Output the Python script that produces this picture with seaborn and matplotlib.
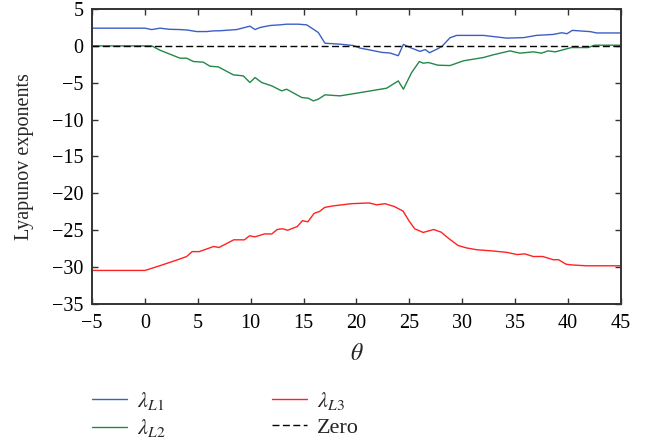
import matplotlib
matplotlib.use("Agg")
import matplotlib.pyplot as plt
import seaborn as sns
import pandas as pd

# Lyapunov exponent spectra versus theta
theta_l1 = [-5, 0.0, 0.64, 1.43, 2.3, 3.32, 4.0, 4.89, 5.84, 6.47, 7.1, 8.67, 9.93,
            10.41, 10.88, 11.82, 12.77, 13.4, 14.5, 15.29, 15.92, 16.39, 17.02, 18.44,
            19.7, 20.33, 21.59, 22.38, 23.17, 23.95, 24.43, 25.06, 26.0, 26.5, 26.9,
            27.6, 28.05, 28.84, 29.47, 32.0, 34.2, 35.8, 37.0, 38.6, 39.4, 39.9, 40.4,
            42.1, 42.7, 45]
lam_l1 = [2.40, 2.40, 2.21, 2.40, 2.25, 2.21, 2.15, 1.94, 1.94, 2.03, 2.05, 2.21, 2.67,
          2.21, 2.49, 2.76, 2.85, 2.94, 2.94, 2.85, 2.26, 1.81, 0.36, 0.23,
          0.05, -0.30, -0.65, -0.88, -0.97, -1.33, 0.20, -0.22, -0.75, -0.50, -0.93,
          -0.45, -0.10, 1.10, 1.42, 1.42, 1.05, 1.12, 1.42, 1.55, 1.78, 1.65, 2.10,
          1.93, 1.75, 1.75]

theta_l2 = [-5, 0.64, 1.43, 3.32, 3.95, 4.58, 5.52, 6.15, 6.94, 8.36, 9.3, 9.93, 10.41,
            11.04, 11.98, 12.93, 13.4, 14.82, 15.45, 15.92, 16.39, 17.02, 18.44, 20.0,
            22.85, 23.95, 24.43, 25.21, 25.94, 26.3, 26.8, 27.7, 28.84, 30.1, 32.0,
            32.9, 34.5, 35.45, 36.7, 37.5, 38.1, 38.8, 40.3, 41.9, 42.5, 45]
lam_l2 = [0, 0, -0.59, -1.67, -1.67, -2.12, -2.21, -2.76, -2.85, -3.93, -4.07, -4.97,
          -4.29, -4.97, -5.42, -6.10, -5.88, -7.00, -7.10, -7.46, -7.23, -6.64, -6.78,
          -6.42, -5.74, -4.75, -5.88, -3.62, -2.12, -2.35, -2.26, -2.62, -2.67, -2.03,
          -1.58, -1.22, -0.68, -0.99, -0.81, -0.99, -0.68, -0.81, -0.23, -0.23, 0.09,
          0.09]

theta_l3 = [-5, 0.02, 1.39, 3.1, 3.95, 4.46, 5.14, 6.5, 7.0, 8.4, 9.4, 9.9, 10.4, 11.3,
            12.0, 12.5, 13.0, 13.5, 14.4, 14.9, 15.4, 16.0, 16.5, 17.0, 17.8, 19.5,
            21.2, 21.9, 22.7, 23.6, 24.4, 24.95, 25.5, 26.3, 27.3, 28.0, 28.7, 29.6,
            30.4, 31.4, 32.8, 34.2, 35.2, 35.9, 36.7, 37.6, 38.6, 39.1, 39.8, 40.3,
            41.7, 45]
lam_l3 = [-30.45, -30.45, -29.82, -29.0, -28.56, -27.9, -27.9, -27.2, -27.34, -26.3,
          -26.3, -25.75, -25.9, -25.5, -25.5, -24.9, -24.8, -25.0, -24.5, -23.7,
          -23.86, -22.7, -22.46, -21.9, -21.7, -21.4, -21.3, -21.55, -21.4, -21.8,
          -22.4, -23.7, -24.8, -25.3, -24.9, -25.26, -26.1, -27.07, -27.4, -27.65,
          -27.8, -28.0, -28.3, -28.2, -28.56, -28.56, -29.0, -29.0, -29.6, -29.7,
          -29.82, -29.82]

theta_zero = [-5, 45]
lam_zero = [0, 0]

x_ticks = list(range(-5, 50, 5))
y_ticks = list(range(-35, 10, 5))

sns.set_theme(style="ticks")
plt.rcParams["font.family"] = ["Liberation Serif", "DejaVu Serif"]
plt.rcParams["mathtext.fontset"] = "stix"
plt.rcParams["axes.unicode_minus"] = True

fig = plt.figure(figsize=(6.46, 4.43), dpi=100)
ax = fig.add_axes([0.1424, 0.3138, 0.9613 - 0.1424, 0.9797 - 0.3138])

series = [
    (theta_l1, lam_l1, r"$\lambda_{L1}$", "#3d5fc4", "-"),
    (theta_l2, lam_l2, r"$\lambda_{L2}$", "#23884a", "-"),
    (theta_l3, lam_l3, r"$\lambda_{L3}$", "#ff2222", "-"),
    (theta_zero, lam_zero, "Zero", "black", (0, (5, 2.5))),
]
handles = {}
for th, lam, lab, col, ls in series:
    df = pd.DataFrame({"theta": th, "lam": lam})
    sns.lineplot(data=df, x="theta", y="lam", ax=ax, color=col, linewidth=1.0,
                 linestyle=ls, label=lab, legend=False)
    handles[lab] = ax.lines[-1]

ax.set_xlim(-5, 45)
ax.set_ylim(-35, 5)
ax.set_xticks(x_ticks)
ax.set_yticks(y_ticks)
ax.tick_params(direction="in", length=4, width=1.0, top=True, right=True,
               labelsize=14.5, colors="#333333", labelcolor="black")
ax.tick_params(axis="x", pad=7)
ax.tick_params(axis="y", pad=6)
for sp in ax.spines.values():
    sp.set_visible(True)
    sp.set_linewidth(1.4)
    sp.set_color("#333333")
ax.set_xlabel(r"$\theta$", fontsize=17, labelpad=8)
ax.set_ylabel("Lyapunov exponents", fontsize=14.5, labelpad=13)

order = [r"$\lambda_{L1}$", r"$\lambda_{L2}$", r"$\lambda_{L3}$", "Zero"]
fig.legend([handles[k] for k in order], order, loc="upper left",
           bbox_to_anchor=(0.1424, 0.12), bbox_transform=fig.transFigure,
           ncol=2, frameon=False, fontsize=16, handlelength=1.58,
           handletextpad=0.45, columnspacing=4.8, labelspacing=0.25,
           borderaxespad=0, borderpad=0)

fig.savefig("out.png", dpi=100)
